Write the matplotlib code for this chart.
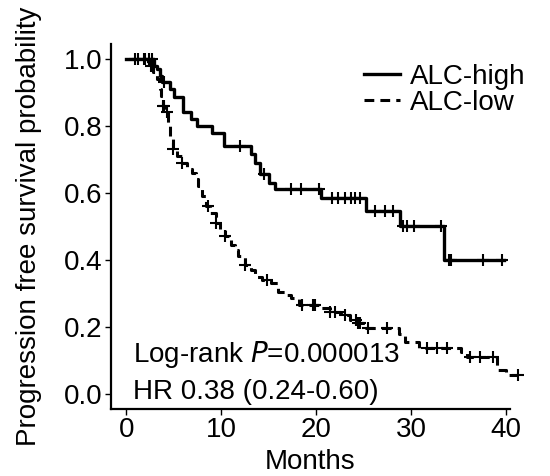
import numpy as np
import matplotlib
matplotlib.use("Agg")
import matplotlib.pyplot as plt

plt.rcParams['font.family'] = ['Liberation Sans', 'DejaVu Sans']

# ALC-high: event times (months) and survival after each event
high_times = [2.9, 3.2, 3.5, 3.8, 4.6, 5.0, 6.0, 6.8, 7.5, 9.0, 10.3, 13.1, 13.6,
              14.1, 15.0, 15.7, 20.5, 25.2, 28.8, 33.5]
high_surv = [0.98, 0.97, 0.95, 0.93, 0.91, 0.885, 0.84, 0.82, 0.80, 0.78, 0.74,
             0.715, 0.69, 0.655, 0.63, 0.61, 0.585, 0.546, 0.50, 0.40]
high_end = 39.8
high_censor = [0.9, 1.9, 2.4, 2.7, 4.0, 12.0, 14.5, 17.3, 18.4, 20.3, 21.7, 22.3,
               23.0, 23.7, 24.1, 24.6, 26.2, 27.3, 28.1, 29.1, 29.6, 30.3, 33.1,
               34.0, 34.2, 37.6, 39.6]

# ALC-low
low_times = [2.3, 2.8, 3.2, 3.5, 3.7, 3.9, 4.1, 4.4, 4.6, 4.9, 5.3, 5.9, 6.4, 6.9,
             7.3, 7.6, 8.0, 8.4, 8.8, 9.4, 9.9, 10.4, 11.0, 11.4, 11.8, 12.5, 13.1,
             13.6, 14.3, 15.2, 16.0, 16.7, 17.3, 18.2, 20.5, 21.5, 22.8, 23.6, 24.3,
             25.2, 28.7, 29.4, 30.8, 35.3, 35.9, 39.0, 40.0]
low_surv = [0.98, 0.96, 0.94, 0.91, 0.89, 0.86, 0.84, 0.81, 0.77, 0.73, 0.71, 0.69,
            0.67, 0.66, 0.64, 0.62, 0.59, 0.56, 0.54, 0.51, 0.49, 0.47, 0.445, 0.43,
            0.41, 0.385, 0.37, 0.35, 0.34, 0.33, 0.305, 0.295, 0.287, 0.265, 0.255,
            0.245, 0.236, 0.22, 0.21, 0.197, 0.18, 0.155, 0.137, 0.125, 0.11, 0.072,
            0.057]
low_end = 41.3
low_censor = [1.2, 2.0, 2.6, 3.9, 3.95, 4.3, 4.9, 5.9, 8.6, 9.4, 10.4, 12.5, 14.8,
              18.5, 19.7, 19.9, 21.5, 22.0, 23.0, 24.2, 24.4, 24.6, 25.5, 27.5,
              31.7, 32.7, 33.8, 36.2, 37.3, 38.6, 41.3]


def km_xy(times, surv, end):
    x = [0.0] + list(times) + [end]
    y = [1.0] + list(surv) + [surv[-1]]
    return x, y


def surv_at(t, times, surv):
    idx = np.searchsorted(times, t, side='right')
    return 1.0 if idx == 0 else surv[idx - 1]


fs = 20
fig = plt.figure(figsize=(5.5, 4.76), dpi=100)
ax = fig.add_axes([0.202, 0.141, 0.725, 0.767])

xh, yh = km_xy(high_times, high_surv, high_end)
ax.step(xh, yh, where='post', color='black', lw=2.4, label='ALC-high', clip_on=False)
ax.plot(high_censor, [surv_at(t, high_times, high_surv) for t in high_censor],
        ls='none', marker='+', ms=8.5, mew=1.5, color='black', clip_on=False)

xl, yl = km_xy(low_times, low_surv, low_end)
ax.step(xl, yl, where='post', color='black', lw=2.2, ls=(0, (3.2, 2.0)),
        label='ALC-low', clip_on=False)
ax.plot(low_censor, [surv_at(t, low_times, low_surv) for t in low_censor],
        ls='none', marker='+', ms=8.5, mew=1.5, color='black', clip_on=False)

ax.set_xlim(-1.6, 40.4)
ax.set_ylim(-0.045, 1.045)
ax.set_xticks([0, 10, 20, 30, 40])
ax.set_yticks([0.0, 0.2, 0.4, 0.6, 0.8, 1.0])
ax.set_yticklabels(['0.0', '0.2', '0.4', '0.6', '0.8', '1.0'])
ax.spines['top'].set_visible(False)
ax.spines['right'].set_visible(False)
for s in ['left', 'bottom']:
    ax.spines[s].set_linewidth(1.6)
ax.tick_params(axis='both', direction='out', length=4.5, width=1.0, labelsize=fs, pad=1.5)

ax.set_xlabel('Months', fontsize=fs, labelpad=4)
ax.set_ylabel('Progression free survival probability', fontsize=fs, labelpad=16)

ax.text(0.7, 0.116, 'Log-rank $\\it{P}$=0.000013', fontsize=fs, va='center', ha='left')
ax.text(0.7, 0.005, 'HR 0.38 (0.24-0.60)', fontsize=fs, va='center', ha='left')

ax.legend(loc='upper right', bbox_to_anchor=(1.08, 0.99), frameon=False, fontsize=fs,
          handlelength=1.3, handletextpad=0.35, labelspacing=0.0, borderaxespad=0.2)

fig.savefig('out.png', dpi=100)
